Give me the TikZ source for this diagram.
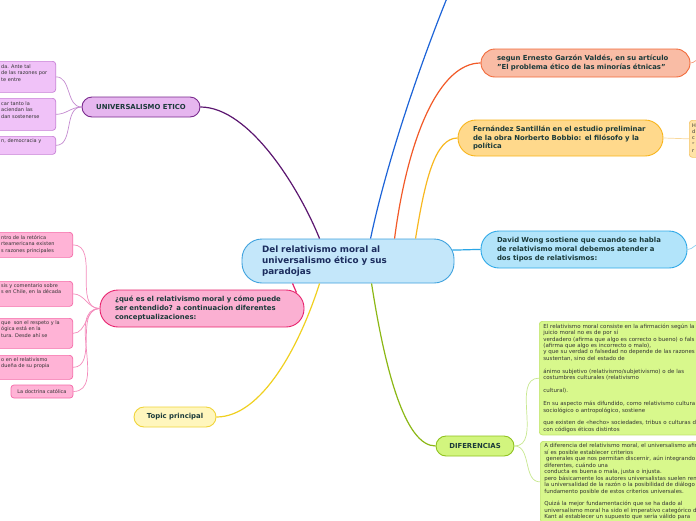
\documentclass[tikz,border=0pt]{standalone}
\usepackage{fontspec}
\setmainfont{DejaVu Sans}
\definecolor{ntext}{HTML}{1B3A3A}
\definecolor{ctext}{HTML}{1C2D5E}
\definecolor{stext}{HTML}{333333}
\definecolor{cfill}{HTML}{C4E7FA}
\definecolor{cbord}{HTML}{3FA2DE}
\definecolor{uefill}{HTML}{E6B6EF}
\definecolor{uebord}{HTML}{7A2A8E}
\definecolor{ueline}{HTML}{5B1670}
\definecolor{vfill}{HTML}{F0C2F8}
\definecolor{vbord}{HTML}{C77FD6}
\definecolor{vline}{HTML}{C48AD0}
\definecolor{pfill}{HTML}{FBB0D2}
\definecolor{pbord}{HTML}{E8246E}
\definecolor{pline}{HTML}{E8246E}
\definecolor{pcfill}{HTML}{FFB3D6}
\definecolor{pcbord}{HTML}{F56AA8}
\definecolor{pcline}{HTML}{F48CBC}
\definecolor{tfill}{HTML}{FFF6BD}
\definecolor{tbord}{HTML}{F0D43A}
\definecolor{tline}{HTML}{F0D020}
\definecolor{dfill}{HTML}{D2F57E}
\definecolor{dbord}{HTML}{8FC21F}
\definecolor{dline}{HTML}{8CB815}
\definecolor{gfill}{HTML}{D8F88C}
\definecolor{gbord}{HTML}{C0E46A}
\definecolor{gline}{HTML}{C8E890}
\definecolor{sfill}{HTML}{F9BCA5}
\definecolor{sbord}{HTML}{F26A3A}
\definecolor{sline}{HTML}{F25A28}
\definecolor{ffill}{HTML}{FFD98C}
\definecolor{fbord}{HTML}{F8B51C}
\definecolor{fline}{HTML}{F8B820}
\definecolor{fcfill}{HTML}{FFE3A6}
\definecolor{fcbord}{HTML}{F5C66A}
\definecolor{fcline}{HTML}{F9D89A}
\definecolor{wfill}{HTML}{B2E4FA}
\definecolor{wbord}{HTML}{2FA9E8}
\definecolor{wline}{HTML}{2AA6E6}
\definecolor{wcline}{HTML}{8AD0F0}
\definecolor{topline}{HTML}{1D64D8}
\begin{document}
\begin{tikzpicture}[x=1pt,y=-1pt]
\tikzset{
 box/.style={draw, line width=0.9pt, inner sep=0pt, align=left,
   font=\fontsize{6.9}{8.8}\selectfont\bfseries, text=ntext},
 small/.style={font=\fontsize{5}{6.45}\selectfont, text=stext, inner sep=0pt, align=left},
 gtext/.style={font=\fontsize{5.5}{6.45}\selectfont, text=stext, align=left, text width=240pt, inner xsep=4pt, inner ysep=2.4pt},
 cbox/.style={draw, line width=0.7pt, rounded corners=3pt, inner sep=0pt},
 mainline/.style={line width=1.2pt},
 subline/.style={line width=0.7pt}
}
\useasboundingbox (0,0) rectangle (696,520);
\fill[white] (0,0) rectangle (696,520);

% central
\node[box, draw=cbord, fill=cfill, rounded corners=20pt, minimum width=212pt, minimum height=44pt,
  text width=172pt, font=\fontsize{8.8}{11}\selectfont\bfseries, text=ctext] (c) at (348,261)
  {Del relativismo moral al\\universalismo ético y sus\\paradojas};

% universalismo
\node[box, draw=uebord, fill=uefill, rounded corners=10pt, minimum width=118pt, minimum height=20pt, align=center] (ue) at (141,107) {UNIVERSALISMO ETICO};
\node[cbox, draw=vbord, fill=vfill, minimum width=80pt, minimum height=31pt, anchor=north east] (v1) at (56,61) {};
\node[small, anchor=north west] (v1t) at (1,64.2) {da. Ante tal\\de las razones por\\te entre};
\node[cbox, draw=vbord, fill=vfill, minimum width=80pt, minimum height=32pt, anchor=north east] (v2) at (56,98) {};
\node[small, anchor=north west] (v2t) at (1,101.2) {car tanto la\\aciendan las\\dan sostenerse};
\node[cbox, draw=vbord, fill=vfill, minimum width=80pt, minimum height=18pt, anchor=north east] (v3) at (56,136) {};
\node[small, anchor=north west] (v3t) at (1,138.2) {n, democracia y};

% pink
\node[box, draw=pbord, fill=pfill, rounded corners=18pt, minimum width=204pt, minimum height=37pt, text width=174pt] (p) at (202,308.5)
  {¿qué es el relativismo moral y cómo puede\\ser entendido? a continuacion diferentes\\conceptualizaciones:};
\node[cbox, draw=pcbord, fill=pcfill, minimum width=90pt, minimum height=25pt, anchor=north east] (pa) at (73,232) {};
\node[small, anchor=north west] (pat) at (1,235.2) {ntro de la retórica\\rteamericana existen\\s razones principales};
\node[cbox, draw=pcbord, fill=pcfill, minimum width=90pt, minimum height=25pt, anchor=north east] (pb) at (73,281) {};
\node[small, anchor=north west] (pbt) at (1,283.2) {sis y comentario sobre\\s en Chile, en la década};
\node[cbox, draw=pcbord, fill=pcfill, minimum width=90pt, minimum height=30pt, anchor=north east] (pc) at (73,318) {};
\node[small, anchor=north west] (pct) at (1,320.2) {que\ \ son el respeto y la\\ógica está en la\\tura. Desde ahí se};
\node[cbox, draw=pcbord, fill=pcfill, minimum width=90pt, minimum height=24pt, anchor=north east] (pd) at (73,355) {};
\node[small, anchor=north west] (pdt) at (1,357.2) {o en el relativismo\\dueña de su propia};
\node[cbox, draw=pcbord, fill=pcfill, minimum width=62pt, minimum height=13pt, small, align=center] (pe) at (42,391.5) {La doctrina católica};

% topic
\node[box, draw=tbord, fill=tfill, rounded corners=10pt, minimum width=82pt, minimum height=20pt, align=center] (t) at (175,417) {Topic principal};

% diferencias
\node[box, draw=dbord, fill=dfill, rounded corners=10pt, minimum width=78pt, minimum height=20pt, align=center] (d) at (475,446) {DIFERENCIAS};
\node[cbox, draw=gbord, fill=gfill, anchor=north west, gtext] (g1) at (539,321)
 {El relativismo moral consiste en la afirmación según la\\
  juicio moral no es de por sí\\
  verdadero (afirma que algo es correcto o bueno) o fals\\
  (afirma que algo es incorrecto o malo),\\
  y que su verdad o falsedad no depende de las razones\\
  sustentan, sino del estado de\\[6.45pt]
  ánimo subjetivo (relativismo/subjetivismo) o de las\\
  costumbres culturales (relativismo\\[6.45pt]
  cultural).\\[6.45pt]
  En su aspecto más difundido, como relativismo cultura\\
  sociológico o antropológico, sostiene\\[6.45pt]
  que existen de «hecho» sociedades, tribus o culturas d\\
  con códigos éticos distintos};
\node[cbox, draw=gbord, fill=gfill, anchor=north west, gtext] (g2) at (540,441)
 {A diferencia del relativismo moral, el universalismo afir\\
  sí es posible establecer criterios\\
  \ generales que nos permitan discernir, aún integrando\\
  diferentes, cuándo una\\
  conducta es buena o mala, justa o injusta.\\
  pero básicamente los autores universalistas suelen rem\\
  la universalidad de la razón o la posibilidad de diálogo\\
  fundamento posible de estos criterios universales.\\[6.45pt]
  Quizá la mejor fundamentación que se ha dado al\\
  universalismo moral ha sido el imperativo categórico de\\
  Kant al establecer un supuesto que sería válido para};

% right nodes
\node[box, draw=sbord, fill=sfill, rounded corners=14pt, minimum width=209pt, minimum height=28pt, text width=177pt] (s) at (585.5,63)
  {segun Ernesto Garzón Valdés, en su artículo\\"El problema ético de las minorías étnicas"};
\node[box, draw=fbord, fill=ffill, rounded corners=18pt, minimum width=205pt, minimum height=36pt, text width=175pt] (f) at (560.5,138)
  {Fernández Santillán en el estudio preliminar\\de la obra Norberto Bobbio: el filósofo y la\\política};
\node[cbox, draw=fcbord, fill=fcfill, minimum width=40pt, minimum height=37pt, anchor=north west] (fc) at (689,120) {};
\node[small, anchor=north west] (fct) at (692,123.2) {H\\d\\c\\"\\r};
\node[box, draw=wbord, fill=wfill, rounded corners=18pt, minimum width=206pt, minimum height=37pt, text width=174pt] (w) at (584,249.5)
  {David Wong sostiene que cuando se habla\\de relativismo moral debemos atender a\\dos tipos de relativismos:};

\coordinate (top) at (447,-2);
\coordinate (sx) at (700,59);
\coordinate (wx) at (700,244);

% connectors
\draw[mainline, topline] ([xshift=129pt]c.north west) .. controls (386,165) and (418,70) .. (top);
\draw[mainline, sline] ([xshift=153pt]c.north west) .. controls (408,135) and (440,63) .. (s.west);
\draw[mainline, fline] ([xshift=174pt]c.north west) .. controls (425,180) and (435,138) .. (f.west);
\draw[mainline, wline] ([xshift=-2pt,yshift=11pt]c.east) to[out=0,in=180] (w.west);
\draw[mainline, ueline] ([xshift=78pt]c.north west) .. controls (300,190) and (250,107) .. (ue.east);
\draw[mainline, pline] ([xshift=51pt]c.south west) -- ([xshift=-8pt,yshift=-3pt]p.north east);
\draw[mainline, tline] ([xshift=78pt]c.south west) .. controls (300,345) and (262,417) .. (t.east);
\draw[mainline, dline] ([xshift=130pt]c.south west) .. controls (385,370) and (405,446) .. (d.west);

\foreach \n in {v1,v2,v3} \draw[subline, vline] (ue.west) to[out=180,in=0] (\n.east);
\foreach \n in {pa,pb,pc,pd,pe} \draw[subline, pcline] (p.west) to[out=180,in=0] (\n.east);
\foreach \n in {g1,g2} \draw[subline, gline] (d.east) to[out=0,in=180] (\n.west);
\draw[subline, sline!60] (s.east) to[out=0,in=180] (sx);
\draw[subline, fcline] (f.east) -- (fc.west);
\draw[subline, wcline] (w.east) to[out=0,in=180] (wx);
\end{tikzpicture}
\end{document}
